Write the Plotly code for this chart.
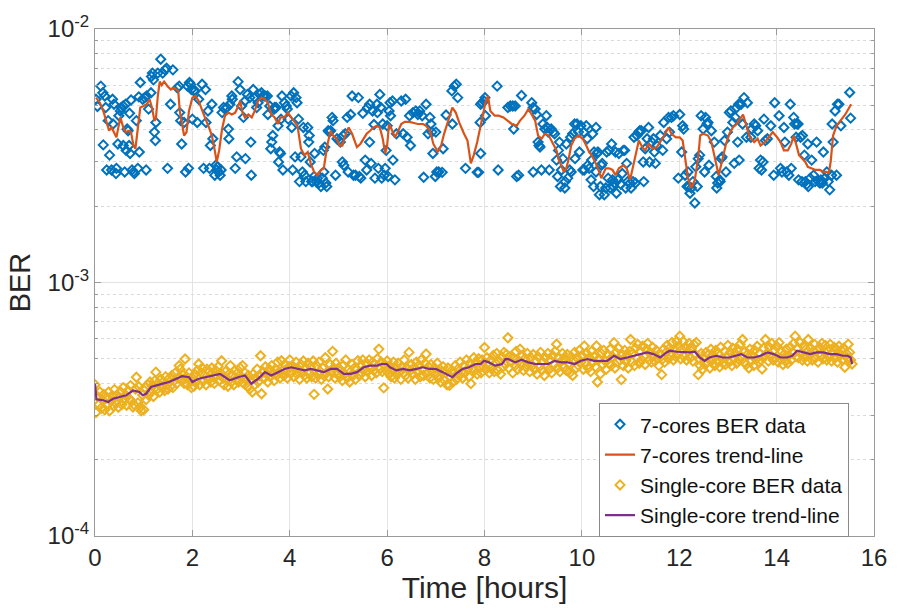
import plotly.graph_objects as go

# ---------------- data ----------------
# 7-cores BER data: time [h], BER in units of 1e-3
seven_t = [
0.02,0.05,0.12,0.16,0.20,0.22,0.17,0.24,0.27,0.30,0.34,0.36,0.37,0.39,0.43,0.44,0.47,0.49,0.52,0.54,
0.58,0.58,0.61,0.63,0.64,0.66,0.68,0.70,0.71,0.72,0.74,0.76,0.79,0.81,0.85,0.88,0.90,0.91,0.93,0.98,
1.02,1.05,1.06,1.10,1.15,1.16,1.18,1.20,1.22,1.24,1.25,1.29,1.35,1.39,1.44,1.47,1.49,1.55,1.60,1.69,
1.73,1.74,1.76,1.78,1.83,1.86,1.90,1.92,1.94,1.96,1.98,2.00,2.03,2.06,2.10,2.13,2.20,2.23,2.27,2.28,
2.32,2.35,2.37,2.40,2.42,2.46,2.48,2.50,2.52,2.54,2.57,2.59,2.61,2.64,2.67,2.71,2.74,2.75,2.77,2.81,
2.82,2.88,2.91,2.94,2.98,3.01,3.05,3.08,3.09,3.13,3.18,3.20,3.21,3.25,3.28,3.32,3.35,3.38,3.42,3.45,
3.49,3.54,3.55,3.59,3.61,3.63,3.65,3.68,3.69,3.72,3.76,3.77,3.79,3.81,3.82,3.84,3.86,3.89,3.93,3.95,
3.97,4.03,4.04,4.06,4.08,4.11,4.13,4.15,4.18,4.20,4.23,4.26,4.28,4.30,4.33,4.37,4.39,4.40,4.42,4.45,
4.47,4.50,4.51,4.54,4.57,4.60,4.64,4.67,4.69,4.70,4.72,4.74,4.76,4.79,4.81,4.84,4.87,4.89,4.94,4.97,
5.01,5.04,5.08,5.10,5.11,5.14,5.18,5.20,5.25,5.28,5.31,5.35,
5.41,5.43,5.46,5.50,5.55,5.58,5.60,5.64,5.64,5.67,5.70,5.73,5.75,5.79,5.80,5.82,5.85,5.87,5.89,5.91,
5.94,5.96,5.98,6.00,6.02,6.04,6.06,6.07,6.11,6.12,6.16,6.19,6.29,6.33,6.38,6.41,6.46,6.48,6.53,6.59,
6.63,6.67,6.72,6.75,6.80,6.84,6.88,6.90,6.92,6.94,6.99,7.00,7.02,7.06,7.13,7.15,7.21,7.33,7.34,7.38,
7.42,7.45,7.61,7.85,7.88,7.91,7.92,7.92,7.95,7.99,8.01,8.02,8.26,8.28,8.48,8.53,8.58,8.60,8.63,8.66,
8.70,8.76,8.97,9.00,9.00,9.04,9.07,9.10,9.12,9.14,9.17,9.20,9.24,9.27,9.29,9.31,9.33,9.37,9.41,9.44,
9.48,9.50,9.52,9.54,9.56,9.58,9.61,9.65,9.66,9.68,9.71,9.75,9.77,9.78,9.81,9.85,9.86,9.90,9.93,9.95,
9.98,10.02,10.04,10.05,10.09,10.11,10.12,10.15,10.19,10.20,10.22,10.24,10.25,
10.29,10.29,10.31,10.33,10.36,10.38,10.40,10.42,10.46,10.49,10.51,10.54,10.56,10.58,10.61,10.63,10.65,10.67,10.69,10.71,
10.74,10.76,10.80,10.83,10.85,10.88,10.90,10.92,10.94,10.99,11.01,11.05,11.07,11.10,11.13,11.17,11.19,11.22,11.26,11.27,
11.30,11.34,11.37,11.39,11.44,11.47,11.49,11.51,11.54,11.61,11.66,11.68,11.74,11.78,11.80,11.84,11.88,11.98,12.01,12.05,
12.07,12.09,12.12,12.16,12.18,12.20,12.22,12.25,12.28,12.32,12.34,12.37,12.39,12.42,12.45,12.49,12.52,12.54,12.57,12.59,
12.61,12.66,12.72,12.76,12.77,12.79,12.83,12.84,12.86,12.88,12.93,12.96,12.99,13.03,13.06,13.10,13.13,13.15,13.18,13.20,
13.22,13.23,13.27,13.30,13.33,13.38,13.40,13.47,13.49,13.54,13.57,13.61,13.64,13.67,13.69,13.72,13.74,13.77,13.81,13.88,
13.94,13.96,14.05,14.08,14.11,14.15,14.17,14.21,14.25,14.28,14.30,14.35,14.37,14.40,14.42,14.44,14.45,14.49,14.52,14.53,
14.57,14.59,14.62,14.64,14.65,14.69,14.72,14.76,14.79,14.82,14.86,14.89,14.91,14.94,14.96,14.99,15.03,15.06,15.09,15.13,
15.14,15.16,15.20,15.23,15.25,15.28,15.32,15.50,15.52]
seven_ber_e3 = [
5.28,4.95,5.95,5.60,5.44,4.90,3.49,2.78,4.35,3.18,2.78,5.28,4.22,5.05,2.69,2.82,3.52,4.55,4.75,4.90,
3.47,4.97,2.73,5.05,3.32,4.03,3.97,3.47,4.65,3.23,5.25,2.78,2.73,2.69,4.35,2.82,5.40,3.27,6.15,5.28,
5.36,2.78,5.44,4.83,5.60,6.50,6.70,6.30,3.92,3.63,4.28,6.70,7.60,6.70,6.90,7.00,2.82,5.05,6.90,5.86,
5.95,4.68,4.35,3.52,4.28,2.73,5.95,2.82,6.15,6.05,5.77,4.41,5.70,5.70,4.28,5.28,6.05,2.82,5.77,4.28,
4.75,2.82,3.47,5.05,3.69,2.65,2.90,2.78,2.86,2.73,2.65,2.78,4.68,4.90,4.83,4.90,4.03,3.69,5.05,5.44,
5.28,2.82,3.13,6.20,5.77,4.97,4.48,5.20,3.08,5.52,5.36,3.58,2.65,5.77,5.36,4.90,5.12,5.52,5.60,5.44,
5.44,5.44,4.60,4.97,3.37,3.58,3.80,4.83,4.90,4.90,4.15,2.99,3.27,3.23,4.41,5.44,2.78,5.12,4.97,4.83,
4.41,5.44,4.09,2.78,5.60,3.13,5.36,5.12,4.41,2.50,3.13,2.73,4.09,2.65,2.50,4.09,3.58,3.80,2.99,2.50,
2.50,2.62,3.23,2.50,2.58,2.47,2.39,2.58,3.32,2.73,3.42,2.47,2.39,3.97,3.92,3.97,4.48,4.35,2.65,3.69,
3.63,3.58,2.99,3.80,2.90,3.86,4.48,2.73,4.60,5.44,2.65,2.65,
5.36,2.62,2.58,4.65,3.04,2.78,4.90,5.05,3.58,2.95,4.75,4.20,2.58,5.05,4.68,2.82,5.52,4.90,2.58,4.22,
2.65,2.82,3.32,4.15,2.62,4.75,5.12,4.55,5.20,3.04,2.54,3.86,5.20,3.86,5.28,3.74,4.55,3.47,4.68,4.75,
4.60,4.75,4.55,2.60,5.05,3.86,4.48,4.22,3.92,3.23,2.62,3.92,2.73,2.73,2.72,3.37,4.58,5.70,4.22,5.95,
6.05,5.36,2.82,2.72,2.72,4.28,3.23,5.05,5.12,5.20,5.36,4.55,5.95,2.78,4.90,4.97,4.97,4.03,4.97,2.62,
2.65,5.47,5.12,4.90,2.73,4.83,4.60,3.58,3.47,3.42,2.78,4.22,4.03,4.55,4.09,3.92,2.78,4.03,3.92,3.86,
3.04,2.62,3.32,3.58,2.39,2.78,3.08,2.36,2.50,3.52,2.58,2.78,3.74,2.73,3.86,4.22,3.08,4.22,3.92,3.27,
4.15,2.78,3.92,2.78,4.15,3.69,2.90,2.82,2.54,3.04,3.86,2.39,3.27,
4.09,2.73,3.23,3.27,2.22,2.39,2.90,2.95,2.22,2.36,3.27,2.58,3.32,2.36,3.52,2.54,2.39,2.47,3.27,2.25,
2.54,3.23,2.44,2.69,3.32,3.32,2.36,2.95,2.50,2.47,2.36,2.50,3.74,2.47,3.80,3.92,3.97,3.97,2.99,2.50,
3.37,3.69,4.09,2.99,3.58,3.69,3.27,2.95,3.47,3.80,3.32,4.28,3.69,4.48,3.92,4.48,4.55,2.58,4.60,3.27,
4.15,4.03,2.65,2.39,2.73,2.39,2.25,2.36,2.50,2.06,2.86,2.39,3.08,3.18,4.55,4.03,2.73,4.48,4.22,4.28,
2.90,3.97,3.58,2.62,2.36,2.47,2.54,2.50,3.08,3.13,3.63,2.73,3.92,4.68,4.75,4.28,2.95,4.48,4.90,3.58,
5.05,3.04,5.05,4.22,5.36,3.74,5.12,3.74,4.03,4.22,4.15,3.97,2.82,3.04,2.78,2.99,4.41,3.63,3.69,4.15,
2.65,5.12,4.55,2.82,2.73,4.09,3.58,2.73,2.65,5.05,2.82,4.48,4.22,3.74,4.22,4.22,2.54,3.74,2.50,3.80,
3.18,2.50,2.44,3.52,2.39,2.58,3.04,2.65,2.50,3.58,2.50,2.47,2.54,2.47,3.27,2.58,2.73,2.50,2.32,2.65,
4.22,3.58,4.75,2.65,5.05,5.05,4.15,5.62,4.45]

# 7-cores trend-line
seven_trend_t = [
0.02,0.10,0.17,0.24,0.29,0.34,0.39,0.44,0.52,0.58,0.63,0.70,0.74,0.79,0.83,0.88,0.93,1.00,1.06,1.12,
1.17,1.22,1.25,1.29,1.33,1.37,1.42,1.49,1.56,1.62,1.71,1.74,1.79,1.83,1.88,1.93,2.00,2.06,2.13,2.20,
2.27,2.34,2.40,2.46,2.50,2.55,2.61,2.67,2.74,2.81,2.88,2.93,2.98,3.03,3.08,3.15,3.22,3.28,3.35,3.42,
3.49,3.55,3.62,3.69,3.76,3.81,3.89,3.96,4.03,4.09,4.16,4.23,4.30,4.37,4.43,4.50,4.57,4.64,4.70,4.77,
4.84,4.89,4.96,5.03,5.08,5.14,5.21,5.28,5.35,
5.38,5.45,5.52,5.58,5.65,5.72,5.79,5.85,5.91,5.96,6.00,6.04,6.09,6.16,6.23,6.29,6.36,6.46,6.57,6.63,
6.74,6.80,6.88,6.95,7.04,7.11,7.17,7.26,7.34,7.41,7.48,7.58,7.65,7.72,7.78,7.85,7.94,8.02,8.07,8.12,
8.21,8.29,8.39,8.48,8.56,8.66,8.73,8.82,8.90,8.97,9.04,9.10,9.17,9.24,9.32,9.41,9.48,9.52,9.58,9.63,
9.68,9.73,9.78,9.85,9.93,10.02,10.09,10.15,10.20,10.25,
10.32,10.40,10.49,10.56,10.63,10.69,10.76,10.85,10.92,10.99,11.05,11.12,11.17,11.24,11.30,11.37,11.46,11.54,11.61,11.69,
11.78,11.84,11.93,12.01,12.07,12.12,12.18,12.25,12.32,12.39,12.43,12.49,12.59,12.66,12.74,12.81,12.89,12.96,13.03,13.10,
13.18,13.23,13.31,13.38,13.45,13.54,13.61,13.67,13.76,13.84,13.92,14.01,14.08,14.15,14.23,14.30,14.35,14.40,14.46,14.53,
14.59,14.64,14.72,14.80,14.89,14.96,15.03,15.07,15.11,15.16,15.23,15.32,15.41,15.53]
seven_trend_e3 = [
5.36,5.12,4.75,4.28,3.97,4.09,3.92,3.74,4.48,4.09,3.92,3.97,3.92,3.47,3.37,4.15,4.90,4.97,5.05,5.28,
4.90,4.35,4.41,5.44,6.20,6.00,6.20,5.95,5.77,5.86,5.70,4.75,4.15,3.80,3.92,4.75,5.36,5.44,5.20,4.83,
4.41,4.09,3.80,3.32,2.99,3.32,4.03,4.55,4.68,4.60,4.68,4.90,5.20,4.68,4.48,4.60,4.48,4.75,5.20,5.36,
5.28,5.12,4.60,4.48,4.22,4.48,4.48,4.68,4.48,4.35,4.15,3.37,3.18,3.27,2.95,2.73,2.65,2.78,2.82,3.47,
3.97,3.80,3.69,3.47,3.47,3.80,4.09,3.86,3.52,
3.42,3.52,3.69,3.86,3.97,4.09,4.15,4.09,3.69,3.23,3.47,4.22,4.03,3.74,3.97,4.22,4.30,4.30,4.25,4.22,
4.22,4.15,3.97,3.52,3.27,3.47,3.86,4.41,4.90,4.68,4.28,3.86,3.63,2.95,3.18,3.58,4.41,5.12,5.44,4.75,
4.55,4.55,4.48,4.35,4.22,4.15,4.35,4.55,4.83,4.60,4.35,3.80,3.69,3.86,3.80,3.52,3.32,3.08,2.86,2.73,
2.82,3.08,3.47,3.69,3.80,3.69,3.47,3.27,3.18,3.04,
2.86,2.58,2.82,2.82,2.78,2.65,2.82,2.90,2.82,2.54,2.86,3.37,3.63,3.42,3.32,3.52,3.37,3.42,3.58,3.80,
4.09,3.86,3.74,3.74,3.63,3.04,2.58,2.36,2.54,3.13,3.80,3.86,3.80,3.58,3.08,2.65,3.08,3.52,3.86,4.09,
4.22,4.35,4.60,4.15,3.74,3.58,3.69,3.47,3.58,3.74,3.92,3.74,3.58,3.32,3.32,3.52,3.80,3.52,3.18,3.08,
2.99,2.86,2.82,2.78,2.78,2.73,2.73,2.69,2.99,3.80,4.15,4.35,4.60,5.05]

# Single-core BER data: time [h], BER in units of 1e-4
single_t = [
0.00,0.02,0.05,0.08,0.10,0.13,0.15,0.18,0.20,0.23,0.25,0.28,0.30,0.33,0.35,0.38,0.40,0.43,0.45,0.48,
0.50,0.53,0.55,0.58,0.60,0.63,0.65,0.68,0.70,0.73,0.75,0.78,0.80,0.83,0.85,0.88,0.90,0.93,0.95,0.98,
1.00,1.03,1.05,1.08,1.10,1.13,1.15,1.18,1.20,1.23,1.25,1.28,1.30,1.33,1.35,1.38,1.40,1.43,1.45,1.48,
1.50,1.53,1.55,1.58,1.60,1.63,1.65,1.68,1.70,1.73,1.75,1.78,1.80,1.83,1.85,1.88,1.90,1.93,1.95,1.98,
2.00,2.03,2.05,2.08,2.10,2.13,2.15,2.18,2.20,2.23,2.25,2.28,2.30,2.33,2.35,2.38,2.40,2.43,2.45,2.48,
2.50,2.53,2.55,2.58,2.60,2.63,2.65,2.68,2.70,2.73,2.75,2.78,2.80,2.83,2.85,2.88,2.90,2.93,2.95,2.98,
3.00,3.03,3.05,3.08,3.10,3.13,3.15,3.18,3.20,3.23,3.25,3.28,3.30,3.33,3.35,3.38,3.40,3.42,3.45,3.48,
3.50,3.53,3.55,3.58,3.60,3.63,3.65,3.68,3.70,3.73,3.75,3.78,3.80,3.83,3.85,3.88,3.90,3.93,3.95,3.98,
4.00,4.03,4.05,4.08,4.10,4.13,4.15,4.18,4.20,4.23,4.25,4.28,4.30,4.33,4.35,4.38,4.40,4.43,4.45,4.48,
4.50,4.53,4.55,4.58,4.60,4.63,4.65,4.68,4.70,4.73,4.75,4.78,4.80,4.83,4.85,4.88,4.90,4.93,4.95,4.98,
5.00,5.03,5.05,5.08,5.10,5.13,5.15,5.18,5.20,5.23,5.25,5.28,5.30,5.33,5.35,5.38,5.40,5.43,5.45,5.48,
5.50,5.53,5.55,5.58,5.60,5.63,5.65,5.68,5.70,5.73,5.75,5.78,5.80,5.83,5.85,5.88,5.90,5.93,5.95,5.98,
6.00,6.03,6.05,6.08,6.10,6.13,6.15,6.18,6.20,6.23,6.25,6.28,6.30,6.33,6.35,6.38,6.40,6.43,6.45,6.48,
6.50,6.53,6.55,6.58,6.60,6.63,6.65,6.68,6.70,6.73,6.75,6.78,6.80,6.83,6.85,6.88,6.90,6.93,6.95,6.98,
7.00,7.03,7.05,7.08,7.10,7.13,7.15,7.18,7.20,7.23,7.25,7.28,7.30,7.33,7.35,7.38,7.40,7.43,7.45,7.48,
7.50,7.53,7.55,7.58,7.60,7.63,7.65,7.68,7.70,7.72,7.75,7.78,7.80,7.83,7.85,7.88,7.90,7.93,7.95,7.98,
8.00,8.03,8.05,8.08,8.10,8.13,8.15,8.18,8.20,8.23,8.25,8.28,8.30,8.33,8.35,8.38,8.40,8.43,8.45,8.48,
8.50,8.53,8.55,8.58,8.60,8.63,8.65,8.68,8.70,8.73,8.75,8.78,8.80,8.83,8.85,8.88,8.90,8.93,8.95,8.98,
9.00,9.03,9.05,9.08,9.10,9.13,9.15,9.18,9.20,9.23,9.25,9.28,9.30,9.33,9.35,9.38,9.40,9.43,9.45,9.48,
9.50,9.53,9.55,9.58,9.60,9.63,9.65,9.68,9.70,9.73,9.75,9.78,9.81,9.83,9.85,9.88,9.90,9.93,9.95,9.98,
10.00,10.03,10.05,10.08,10.10,10.13,10.15,10.18,10.20,10.23,10.25,10.28,10.30,10.32,10.35,10.38,10.40,10.43,10.45,10.48,
10.50,10.53,10.55,10.58,10.60,10.63,10.66,10.68,10.70,10.73,10.75,10.78,10.81,10.83,10.85,10.88,10.90,10.93,10.95,10.98,
11.00,11.03,11.05,11.08,11.10,11.13,11.15,11.18,11.20,11.23,11.25,11.28,11.30,11.33,11.35,11.38,11.40,11.43,11.45,11.48,
11.50,11.53,11.55,11.58,11.60,11.64,11.66,11.68,11.70,11.73,11.75,11.78,11.80,11.83,11.85,11.88,11.90,11.93,11.95,11.98,
12.00,12.01,12.03,12.05,12.08,12.10,12.13,12.15,12.18,12.20,12.23,12.25,12.28,12.30,12.33,12.35,12.39,12.40,12.43,12.45,
12.48,12.50,12.53,12.55,12.58,12.60,12.63,12.65,12.68,12.70,12.73,12.75,12.78,12.80,12.83,12.85,12.88,12.90,12.93,12.95,12.98,
13.00,13.03,13.05,13.08,13.10,13.13,13.15,13.18,13.20,13.23,13.25,13.28,13.30,13.33,13.35,13.38,13.40,13.43,13.45,13.48,
13.50,13.53,13.55,13.58,13.60,13.63,13.65,13.68,13.70,13.73,13.75,13.77,13.80,13.83,13.85,13.88,13.90,13.93,13.95,13.98,
14.00,14.03,14.05,14.08,14.10,14.13,14.15,14.18,14.20,14.23,14.25,14.28,14.30,14.33,14.35,14.38,14.40,14.43,14.45,14.48,
14.50,14.53,14.55,14.58,14.60,14.63,14.65,14.68,14.70,14.73,14.75,14.78,14.80,14.83,14.85,14.88,14.90,14.93,14.95,14.98,
15.00,15.03,15.05,15.08,15.10,15.13,15.15,15.18,15.20,15.23,15.25,15.28,15.30,15.33,15.35,15.38,15.40,15.43,15.45,15.47,
15.50,15.52,15.55]
single_ber_e4 = [
3.95,3.07,3.55,3.30,3.70,3.20,3.45,3.62,3.15,3.50,3.28,3.70,3.12,3.40,3.58,3.25,3.78,3.35,3.60,3.22,
3.52,3.70,3.30,3.85,3.45,3.60,3.28,3.75,3.48,3.92,3.40,3.23,3.30,3.80,4.23,3.35,3.88,3.22,3.12,3.60,
3.15,3.85,3.45,3.95,3.60,4.05,3.70,3.90,3.55,4.10,4.43,3.80,4.00,3.70,4.15,3.85,4.05,3.75,4.25,3.95,
3.80,4.20,3.90,4.30,3.85,4.10,4.40,4.00,4.20,4.70,4.55,4.15,4.35,4.00,4.99,4.25,3.95,4.40,4.10,3.85,
4.20,3.90,4.35,4.05,4.50,4.77,3.95,4.40,4.60,4.10,4.30,3.95,4.55,4.20,4.45,4.05,4.60,4.25,4.00,4.50,
4.30,4.65,4.10,4.40,4.91,4.20,3.95,4.45,4.15,3.90,4.35,4.70,4.05,4.30,3.95,4.50,4.15,4.40,4.05,4.60,
4.25,4.70,4.00,4.40,4.15,3.90,4.30,3.80,4.10,3.70,4.35,3.95,4.20,4.55,4.05,4.30,5.14,3.64,4.45,4.20,
4.65,4.35,4.05,4.55,4.25,4.70,4.40,4.10,4.55,4.30,4.85,4.45,4.20,4.91,4.50,4.30,4.75,4.45,4.20,4.65,
4.95,4.40,4.70,4.25,4.60,4.85,4.35,4.55,4.15,4.75,4.45,4.90,4.30,4.60,4.20,4.80,4.40,4.65,4.25,4.90,
3.62,4.20,4.70,4.35,4.85,4.45,4.15,4.60,4.30,5.05,4.40,3.80,4.25,4.75,4.45,5.35,4.60,4.20,4.80,4.35,
4.60,4.25,4.50,4.10,4.70,4.35,4.95,4.20,4.55,4.05,4.45,4.75,4.30,4.60,4.15,4.55,4.91,4.30,4.70,4.40,
4.95,4.55,4.25,4.80,4.45,4.95,4.60,4.30,4.85,4.50,4.75,4.40,5.00,5.46,4.55,4.85,4.45,3.84,4.75,4.50,
4.90,4.40,4.70,4.25,4.55,4.85,4.20,4.60,4.35,4.80,4.45,4.15,4.65,4.40,4.95,4.30,4.60,4.20,5.30,4.50,
4.75,4.35,4.60,4.15,4.85,4.45,4.70,4.25,4.95,4.55,4.30,4.80,5.22,4.40,4.65,4.20,4.75,4.45,4.15,4.60,
4.35,4.80,4.20,4.55,4.05,4.45,4.65,4.10,4.40,3.95,4.60,3.93,4.25,4.50,4.05,4.40,4.70,4.15,4.55,4.30,
4.85,4.45,4.20,4.70,4.40,4.95,4.55,4.25,4.80,3.99,4.60,5.05,4.50,4.85,4.35,5.00,4.60,4.40,4.95,4.65,
5.54,4.55,5.05,4.70,4.40,4.95,4.60,5.15,4.45,4.80,5.25,4.50,4.90,4.35,5.10,4.65,5.30,4.75,5.20,6.05,
4.60,5.10,4.85,4.40,5.00,4.70,5.35,4.55,4.90,5.46,4.75,5.15,4.50,5.00,4.65,5.25,4.80,4.45,5.05,4.70,
5.20,4.55,4.90,4.35,5.10,4.65,5.30,4.50,4.85,4.30,5.05,4.70,5.25,4.55,4.95,4.40,5.15,4.75,5.35,5.71,
4.60,5.05,4.45,4.90,5.25,4.65,5.00,4.50,5.20,4.80,4.40,5.10,4.30,4.95,5.30,4.60,5.05,4.70,5.40,4.85,
5.15,4.55,5.62,4.80,5.25,4.60,5.05,4.45,5.35,4.85,5.10,4.65,5.62,4.05,5.00,4.36,5.25,4.75,5.40,4.90,
4.55,5.20,4.80,5.45,4.70,5.10,5.79,4.60,5.30,4.85,5.50,4.95,4.14,5.20,4.70,5.40,4.90,5.15,4.60,5.35,
5.96,4.85,5.25,4.70,5.50,5.05,5.70,4.80,5.35,4.95,5.60,5.10,4.75,5.45,5.75,4.95,5.30,4.85,5.55,5.15,
4.90,5.40,5.05,4.70,5.25,4.33,5.00,5.45,4.85,5.30,5.65,5.00,5.50,5.15,5.80,4.95,5.40,5.10,5.85,5.25,
5.60,6.14,5.00,5.45,5.85,5.10,5.55,4.95,5.35,5.75,5.05,5.50,4.90,5.70,5.20,5.80,4.33,5.00,4.70,5.25,
4.55,5.05,4.75,5.30,4.85,5.20,4.60,5.45,4.95,5.15,4.70,5.40,4.90,5.25,4.65,5.55,5.00,4.80,5.35,4.75,5.10,
5.65,4.85,5.30,4.70,5.50,5.00,5.25,4.80,5.45,4.95,5.70,5.10,5.96,4.85,5.35,4.75,5.20,4.60,5.45,4.90,
5.15,4.70,5.40,5.00,5.60,4.85,5.25,4.95,4.56,5.50,5.10,5.96,5.25,4.90,5.55,5.15,5.75,4.95,5.40,5.05,
5.60,4.85,5.79,5.00,5.35,4.75,5.20,4.90,5.45,4.80,5.15,5.55,4.95,5.30,5.75,6.14,5.10,5.50,5.05,5.80,
5.25,4.95,5.60,5.15,5.45,4.90,5.96,5.20,5.50,4.95,5.35,5.70,5.05,5.40,4.85,5.55,5.15,5.75,5.00,5.35,
5.65,4.95,5.40,5.10,5.70,4.90,5.30,5.55,5.05,5.45,4.85,5.60,5.15,5.40,4.95,5.50,4.63,5.25,5.05,5.71,
5.30,4.95,4.77]

# Single-core trend-line
single_trend_t = [
0.00,0.03,0.17,0.27,0.37,0.51,0.64,0.78,0.91,0.98,1.05,1.15,1.25,1.39,1.52,1.66,1.79,1.93,2.00,2.13,
2.27,2.40,2.57,2.67,2.77,2.94,3.08,3.21,3.35,3.49,3.62,3.76,3.89,4.03,4.16,4.30,4.43,4.57,4.70,4.84,
4.97,5.11,5.25,
5.38,5.52,5.65,5.79,5.89,5.99,6.06,6.19,6.33,6.46,6.60,6.73,6.87,7.00,7.14,7.28,7.34,7.41,7.55,7.68,
7.82,7.92,7.99,8.09,8.22,8.36,8.43,8.49,8.63,8.76,8.90,9.04,9.17,9.31,9.44,9.58,9.71,9.85,9.98,10.12,
10.25,10.39,10.52,10.66,10.79,10.93,11.07,11.20,11.34,11.47,11.61,11.74,11.81,11.95,12.08,12.22,12.32,
12.42,12.52,12.62,12.76,12.89,13.03,13.16,13.27,13.40,13.54,13.67,13.81,13.94,14.08,14.21,14.32,14.42,
14.55,14.69,14.82,14.96,15.09,15.23,15.36,15.46,15.52,15.55]
single_trend_e4 = [
3.99,3.46,3.43,3.38,3.48,3.53,3.59,3.75,3.70,3.59,3.64,3.87,3.93,3.99,4.05,4.17,4.27,4.23,4.05,4.17,
4.23,4.30,4.36,4.23,4.11,4.23,4.30,3.99,4.17,4.43,4.30,4.43,4.56,4.63,4.56,4.50,4.56,4.50,4.43,4.56,
4.56,4.36,4.36,
4.43,4.63,4.70,4.70,4.77,4.77,4.63,4.50,4.56,4.50,4.56,4.63,4.56,4.56,4.43,4.30,4.23,4.36,4.56,4.63,
4.77,4.77,4.91,4.84,4.70,4.77,4.99,4.99,4.84,4.96,4.84,4.77,4.77,4.77,4.91,4.84,4.84,4.77,4.91,4.99,
4.91,4.91,4.91,5.14,4.99,5.06,5.14,5.22,5.30,5.22,5.06,5.30,5.38,5.33,5.30,5.30,5.33,
5.06,4.91,5.06,5.14,5.06,5.06,5.14,5.22,5.06,5.06,5.14,5.30,5.22,5.06,5.06,5.14,5.38,
5.30,5.22,5.30,5.30,5.22,5.22,5.14,5.14,5.06,4.77]

x_ticks = [0, 2, 4, 6, 8, 10, 12, 14, 16]
y_major = [1e-4, 1e-3, 1e-2]
y_major_text = ["10<sup>-4</sup>", "10<sup>-3</sup>", "10<sup>-2</sup>"]
y_minor = [m * d for d in (1e-4, 1e-3) for m in range(2, 10)]

# ---------------- figure ----------------
FONT = "Liberation Sans, Arial, Helvetica, sans-serif"
BLUE, ORANGE, YELLOW, PURPLE = "#0072BD", "#D95319", "#EDB120", "#7E2F8E"

fig = go.Figure()
fig.add_trace(go.Scatter(
    x=seven_t, y=[v * 1e-3 for v in seven_ber_e3], mode="markers",
    name="7-cores BER data",
    marker=dict(symbol="diamond-open", size=7, color=BLUE, line=dict(width=2, color=BLUE))))
fig.add_trace(go.Scatter(
    x=seven_trend_t, y=[v * 1e-3 for v in seven_trend_e3], mode="lines",
    name="7-cores trend-line", line=dict(color=ORANGE, width=2.2)))
fig.add_trace(go.Scatter(
    x=single_t, y=[v * 1e-4 for v in single_ber_e4], mode="markers",
    name="Single-core BER data",
    marker=dict(symbol="diamond-open", size=7, color=YELLOW, line=dict(width=2, color=YELLOW))))
fig.add_trace(go.Scatter(
    x=single_trend_t, y=[v * 1e-4 for v in single_trend_e4], mode="lines",
    name="Single-core trend-line", line=dict(color=PURPLE, width=2.2)))

axis_common = dict(
    showline=True, linecolor="#9a9a9a", linewidth=1, mirror="allticks",
    ticks="inside", tickcolor="#9a9a9a", ticklen=6,
    tickfont=dict(family=FONT, size=24, color="#262626"),
    showgrid=True, gridcolor="#e3e3e3", gridwidth=1, zeroline=False,
)

fig.update_layout(
    width=899, height=610,
    margin=dict(l=95, r=16, t=22, b=73),
    paper_bgcolor="white", plot_bgcolor="white",
    font=dict(family=FONT, color="#262626"),
    xaxis=dict(range=[0, 16], tickvals=x_ticks,
               title=dict(text="Time [hours]", font=dict(family=FONT, size=30, color="#262626"), standoff=6),
               **axis_common),
    yaxis=dict(type="log", range=[-4, -2], tickvals=y_major, ticktext=y_major_text,
               title=dict(text="BER", font=dict(family=FONT, size=29, color="#262626"), standoff=8),
               minor=dict(tickvals=y_minor, ticks="inside", ticklen=3, tickcolor="#9a9a9a",
                          showgrid=True, gridcolor="#dadada", griddash="dot", gridwidth=1),
               **axis_common),
    legend=dict(x=0.647, y=0.262, xanchor="left", yanchor="top",
                bgcolor="white", bordercolor="#8a8a8a", borderwidth=1,
                font=dict(family=FONT, size=21, color="#111111"),
                tracegroupgap=0, itemwidth=30),
    showlegend=True,
)

fig.write_html("out.html")
